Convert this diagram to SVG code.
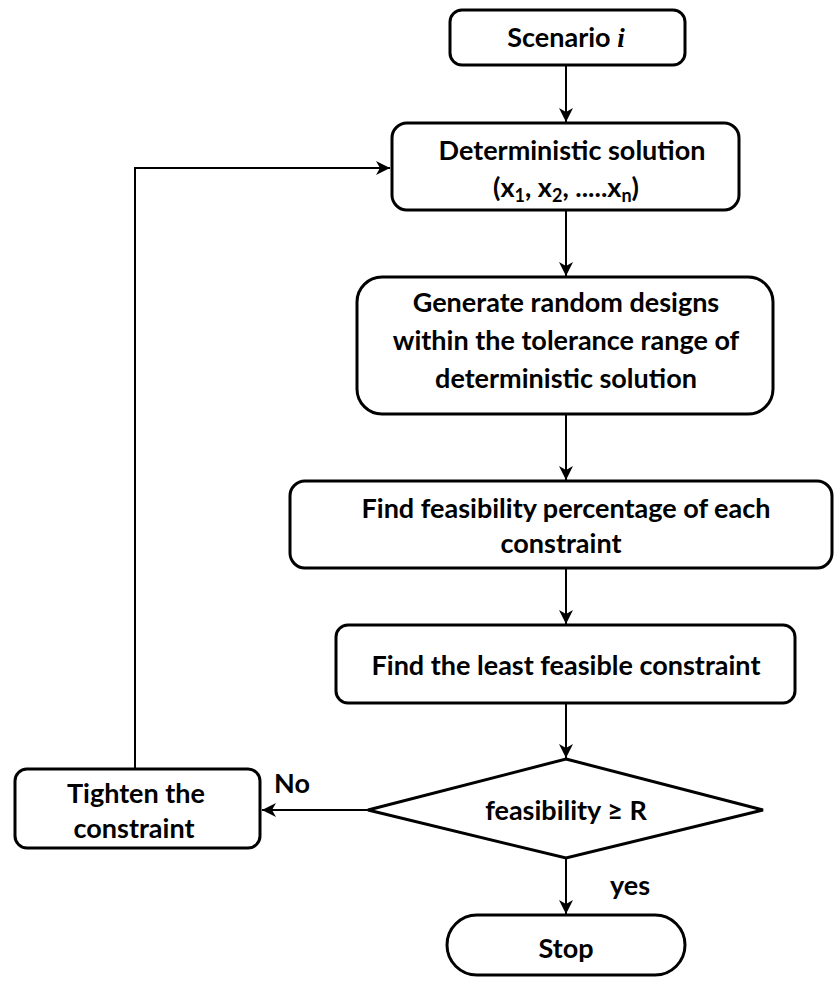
<svg xmlns="http://www.w3.org/2000/svg" width="835" height="982" viewBox="0 0 835 982">
  <style>
    .box { fill: #ffffff; stroke: #000000; stroke-width: 3; }
    .edge { fill: none; stroke: #000000; stroke-width: 2; }
    text { font-family: Lato, "Open Sans", "Liberation Sans", sans-serif; font-weight: bold; font-size: 27px; fill: #000000; text-anchor: middle; }
    .sub { font-size: 18px; }
  </style>
  <defs>
    <marker id="arrow" viewBox="0 0 16 16" refX="15" refY="8" markerWidth="16" markerHeight="16" markerUnits="userSpaceOnUse" orient="auto">
      <path d="M15,8 L1,1 L5,8 L1,15 Z" fill="#000000"/>
    </marker>
  </defs>

  <rect width="835" height="982" fill="#ffffff"/>

  <!-- connectors -->
  <g id="connectors">
    <line class="edge" x1="566" y1="65" x2="566" y2="122" marker-end="url(#arrow)"/>
    <line class="edge" x1="566" y1="210" x2="566" y2="276" marker-end="url(#arrow)"/>
    <line class="edge" x1="566" y1="414" x2="566" y2="480" marker-end="url(#arrow)"/>
    <line class="edge" x1="566" y1="568" x2="566" y2="624" marker-end="url(#arrow)"/>
    <line class="edge" x1="566" y1="703" x2="566" y2="758" marker-end="url(#arrow)"/>
    <line class="edge" x1="566" y1="858" x2="566" y2="914" marker-end="url(#arrow)"/>
    <line class="edge" x1="368" y1="810" x2="262" y2="810" marker-end="url(#arrow)"/>
    <polyline class="edge" points="135,769 135,168 390,168" stroke-width="3" marker-end="url(#arrow)"/>
    <text x="292" y="793">No</text>
    <text x="630" y="895">yes</text>
  </g>

  <!-- start -->
  <g id="scenario">
    <rect class="box" x="450" y="10" width="235" height="55" rx="12"/>
    <text x="566" y="47">Scenario <tspan font-family="'Liberation Serif', serif" font-style="italic">i</tspan></text>
  </g>

  <g id="deterministic">
    <rect class="box" x="392" y="123" width="347" height="87" rx="15"/>
    <text x="572" y="160">Deterministic solution</text>
    <text x="566" y="197">(x<tspan class="sub" dy="5">1</tspan><tspan dy="-5">, x</tspan><tspan class="sub" dy="5">2</tspan><tspan dy="-5">, .....x</tspan><tspan class="sub" dy="5">n</tspan><tspan dy="-5">)</tspan></text>
  </g>

  <g id="generate">
    <rect class="box" x="357" y="277" width="416" height="137" rx="25"/>
    <text x="566" y="312">Generate random designs</text>
    <text x="566" y="350">within the tolerance range of</text>
    <text x="566" y="388">deterministic solution</text>
  </g>

  <g id="feasibility">
    <rect class="box" x="290" y="481" width="542" height="87" rx="15"/>
    <text x="566" y="518">Find feasibility percentage of each</text>
    <text x="561" y="553">constraint</text>
  </g>

  <g id="least">
    <rect class="box" x="336" y="625" width="459" height="78" rx="12"/>
    <text x="566" y="675">Find the least feasible constraint</text>
  </g>

  <g id="decision">
    <polygon class="box" points="566,759 763,810 566,858 368,810"/>
    <text x="566" y="820">feasibility ≥ R</text>
  </g>

  <g id="tighten">
    <rect class="box" x="15" y="769" width="245" height="79" rx="12"/>
    <text x="136" y="803">Tighten the</text>
    <text x="134" y="838">constraint</text>
  </g>

  <g id="stop">
    <rect class="box" x="447" y="915" width="238" height="60" rx="30"/>
    <text x="566" y="958">Stop</text>
  </g>
</svg>
